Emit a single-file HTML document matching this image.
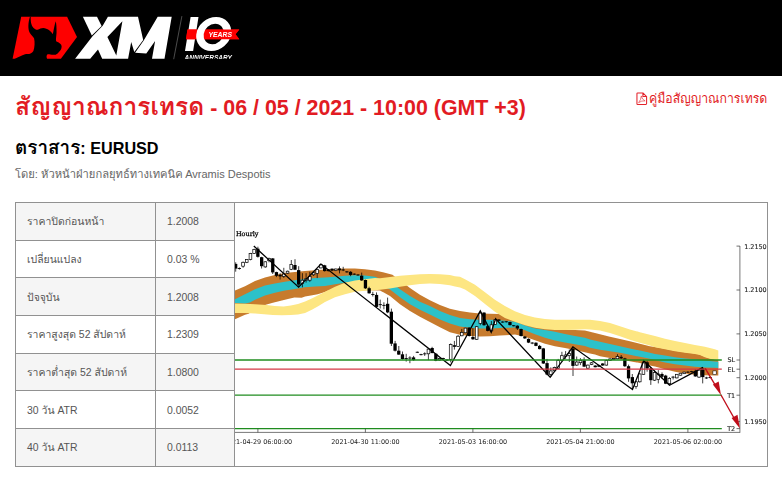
<!DOCTYPE html>
<html lang="th">
<head>
<meta charset="utf-8">
<title>XM</title>
<style>
*{box-sizing:border-box}
html,body{margin:0;padding:0;background:#fff}
body{width:782px;height:481px;overflow:hidden;position:relative;font-family:"Liberation Sans","Loma",sans-serif;color:#333}
#hdr{position:absolute;left:0;top:0;width:782px;height:76px;background:#000}
#logo{position:absolute;left:0;top:0;will-change:transform}
.th{display:inline-block;transform-origin:0 78%;white-space:nowrap}
h1{position:absolute;left:15px;top:92px;margin:0;font-size:21.4px;line-height:30px;font-weight:bold;color:#e21b23;white-space:nowrap}
h1 .th{font-size:24.6px;line-height:30px}
h2 .th{font-size:18.9px;line-height:24px}
#by .th{font-size:11.2px;line-height:16px}
#guide{position:absolute;left:649px;top:89.5px;font-size:12.3px;line-height:18px;color:#e21b23;white-space:nowrap;transform:scaleY(1.08);transform-origin:0 77%}
h2{position:absolute;left:15px;top:136px;margin:0;font-size:16.2px;line-height:24px;font-weight:bold;color:#000;white-space:nowrap}
#by{position:absolute;left:15px;top:166px;font-size:11px;line-height:16px;color:#666;white-space:nowrap}
table{position:absolute;left:15px;top:202px;border-collapse:collapse;font-size:10.45px;color:#555}
td{border:1px solid #919191;height:37.7px;padding:1px 0 0 11px;vertical-align:middle;white-space:nowrap}
tr:nth-child(odd) td{background:#f5f5f5}
td.a{width:140px}
td .t{font-size:10.45px}
td.b{width:79px}
#cell{position:absolute;left:234px;top:202px;width:534px;height:265px;border:1px solid #919191;background:#fff}
#chart{position:absolute;left:0;top:0;will-change:transform}
</style>
</head>
<body>
<div id="hdr">
<svg id="logo" width="260" height="76" viewBox="0 0 260 76">
<defs><clipPath id="lc"><rect x="0" y="0" width="260" height="58.8"/></clipPath></defs>
<polygon fill="#fe0000" points="21.2,16.7 67.1,16.7 77,36.9 60.9,58.8 12.6,58.8"/>
<g transform="translate(10,12) scale(0.1039)"><path fill="#000" d="M192,45 C175,100 170,160 190,200 C205,225 225,240 232,255 C240,290 238,340 225,375 C215,395 195,405 165,405 C140,405 110,420 45,452 L357,452 C348,430 352,415 362,407 C380,405 400,416 440,411 C455,406 465,396 470,386 C485,376 497,356 497,330 C495,312 480,298 447,285 C438,270 445,250 448,200 C449,150 446,110 440,88 C430,120 420,170 412,215 C395,185 360,158 320,155 C300,155 285,165 265,172 C235,170 210,140 202,100 C200,80 198,60 200,45 Z"/></g>
<g fill="#fff">
<polygon points="82.9,16.7 97,16.7 101.6,26 91.8,35.4"/>
<polygon points="75.1,58.8 90.2,58.8 98,49.6 102.2,58.8 116.7,58.8 116.3,55.4 107.4,37 122.4,21.2 116.3,55.4 116.7,58.8 128.1,58.8 131.2,42.1 134.3,52 143.2,40.1 138,16.7 107.9,16.7 102.7,25.7 92.5,36.2"/>
<polygon points="135.1,52.7 146.3,53.6 155.1,40.9 152,58.8 164.5,58.8 171.7,16.7 157.7,16.7 143.7,40.6"/>
</g>
<line x1="181.9" y1="16.1" x2="173.7" y2="59.2" stroke="#555" stroke-width="0.9"/>
<polygon fill="#fff" points="190.6,17 198.5,17 193.1,51.1 185,51.1"/>
<polygon fill="#fe0000" points="187.5,29.4 239.3,29.4 235.5,34.3 239.3,39.2 186,39.2"/>
<g transform="translate(213.7,34) skewX(-8)"><path fill="#fff" fill-rule="evenodd" d="M-17.4,0a17.4,17 0 1,0 34.8,0a17.4,17 0 1,0 -34.8,0ZM-10,0a10,10.3 0 1,1 20,0a10,10.3 0 1,1 -20,0Z"/></g>
<polygon fill="#fe0000" points="187.5,29.4 196.8,29.4 195.2,39.2 186,39.2"/>
<polygon fill="#fe0000" points="206.3,29.4 239.3,29.4 235.5,34.3 239.3,39.2 204.6,39.2 204.6,34.3"/>
<text x="208.6" y="37" font-family="'Liberation Sans',sans-serif" font-weight="bold" font-style="italic" font-size="7.9" fill="#fff" textLength="23.3" lengthAdjust="spacingAndGlyphs">YEARS</text>
<g clip-path="url(#lc)"><text x="184.6" y="60" font-family="'Liberation Sans',sans-serif" font-weight="bold" font-style="italic" font-size="6.3" fill="#fff" textLength="47.3" lengthAdjust="spacingAndGlyphs">ANNIVERSARY</text></g>
</svg></div>
<h1><span class="th">สัญญาณการเทรด</span> - 06 / 05 / 2021 - 10:00 (GMT +3)</h1>
<svg width="12" height="14" viewBox="0 0 12 14" style="position:absolute;left:635.6px;top:92.4px"><path d="M1.6 0.95H6.9L10.6 4.6V11.6Q10.6 12.4 9.8 12.4H1.6Q0.95 12.4 0.95 11.7V1.6Q0.95 0.95 1.6 0.95Z M6.9 1.1V4.5H10.4" fill="none" stroke="#e3232b" stroke-width="1.05" stroke-linejoin="round"/><path d="M2.6 10.7Q5.1 7.6 5.3 3.9Q5.9 7.6 9.1 8.9Q5.6 8.4 2.6 10.7Z" fill="none" stroke="#e3232b" stroke-width="0.6" stroke-linejoin="round"/></svg>
<div id="guide">คู่มือสัญญาณการเทรด</div>
<h2><span class="th">ตราสาร</span>: EURUSD</h2>
<div id="by"><span class="th">โดย: หัวหน้าฝ่ายกลยุทธ์ทางเทคนิค</span> Avramis Despotis</div>
<table>
<tr><td class="a"><span class="t">ราคาปิดก่อนหน้า</span></td><td class="b">1.2008</td></tr>
<tr><td class="a"><span class="t">เปลี่ยนแปลง</span></td><td class="b">0.03 %</td></tr>
<tr><td class="a"><span class="t">ปัจจุบัน</span></td><td class="b">1.2008</td></tr>
<tr><td class="a"><span class="t">ราคาสูงสุด</span> 52 <span class="t">สัปดาห์</span></td><td class="b">1.2309</td></tr>
<tr><td class="a"><span class="t">ราคาต่ำสุด</span> 52 <span class="t">สัปดาห์</span></td><td class="b">1.0800</td></tr>
<tr><td class="a">30 <span class="t">วัน</span> ATR</td><td class="b">0.0052</td></tr>
<tr><td class="a">40 <span class="t">วัน</span> ATR</td><td class="b">0.0113</td></tr>
</table>
<div id="cell"></div>
<svg id="chart" width="782" height="481" viewBox="0 0 782 481">
<defs><clipPath id="cc"><rect x="235" y="203" width="532" height="263"/></clipPath></defs>
<g clip-path="url(#cc)">
<polygon fill="#c77b2d" points="235.0,290.6 245.0,286.2 255.0,281.0 265.0,277.5 274.9,275.0 284.9,273.1 294.9,271.9 304.9,271.0 315.0,270.2 325.0,269.5 335.0,269.0 345.0,268.6 354.9,268.6 364.9,269.2 374.9,270.5 384.9,272.7 392.4,274.8 400.0,280.5 406.8,285.5 410.0,288.0 419.9,294.8 429.9,300.2 439.9,305.1 449.9,308.8 460.0,311.1 470.0,312.5 479.9,313.5 489.9,313.7 499.9,313.9 507.0,315.5 515.0,318.0 525.0,321.0 535.0,324.0 545.0,326.5 554.9,329.0 564.9,330.0 574.9,330.0 584.9,330.6 590.0,331.8 600.0,334.3 610.0,336.8 620.0,339.0 629.9,341.2 639.9,343.7 649.9,346.2 655.0,347.0 665.0,348.8 675.0,350.7 685.0,352.2 694.9,353.5 699.9,354.5 704.9,356.7 709.9,358.2 714.9,359.2 718.3,359.7 718.3,375.5 714.9,375.5 704.9,375.2 694.9,374.7 685.0,373.4 675.0,371.8 665.0,369.3 655.0,366.5 649.9,365.5 639.9,363.1 629.9,361.2 620.0,359.3 610.0,358.1 600.0,356.3 595.0,354.6 590.0,353.6 584.9,352.2 574.9,349.9 564.9,348.1 554.9,346.2 545.0,343.7 535.0,340.2 525.0,336.8 515.0,334.5 509.9,334.9 499.9,335.6 489.9,336.2 479.9,336.4 470.0,335.9 460.0,334.7 450.0,332.2 439.9,327.2 429.9,321.9 419.9,316.7 410.0,311.1 400.0,304.2 390.0,296.1 380.0,290.5 370.0,290.2 355.0,290.2 340.0,290.3 327.5,290.7 325.0,291.9 317.7,294.3 312.3,295.2 305.1,296.5 301.6,297.7 294.4,297.4 289.0,298.7 281.9,300.5 272.9,302.8 266.6,304.6 255.0,308.5 248.7,313.7 245.0,314.8 240.0,317.0 235.0,319.3"/>
<polygon fill="#2cc1c9" points="235.0,299.3 245.0,294.3 255.0,289.3 265.0,285.6 274.9,283.5 284.9,281.8 294.9,280.2 304.9,279.0 315.0,277.9 325.0,277.5 335.0,276.7 345.0,275.7 354.9,275.2 364.9,275.5 374.9,276.7 377.4,277.7 387.0,282.0 397.5,287.3 400.0,289.2 410.0,296.1 419.9,301.7 429.9,306.1 439.9,311.0 449.9,315.0 460.0,318.0 470.0,319.2 479.9,319.8 489.9,319.8 499.9,320.2 509.9,321.2 515.0,321.8 525.0,325.6 535.0,328.5 545.0,330.0 554.9,331.8 564.9,334.0 574.9,336.0 584.9,337.7 590.0,339.5 600.0,341.8 610.0,344.0 620.0,346.2 629.9,348.4 639.9,350.6 649.9,352.7 655.0,354.0 665.0,355.6 675.0,357.2 685.0,358.4 694.9,359.3 704.9,360.6 714.9,361.4 718.3,361.8 718.3,368.1 714.9,367.7 704.9,367.4 694.9,366.8 685.0,365.6 675.0,364.3 665.0,362.4 655.0,360.1 649.9,358.7 639.9,356.8 629.9,354.7 620.0,352.7 610.0,351.2 600.0,349.7 590.0,347.8 584.9,345.9 574.9,344.3 564.9,342.4 554.9,340.6 545.0,337.7 535.0,334.3 525.0,330.3 515.0,327.5 509.9,327.7 499.9,328.1 489.9,328.5 479.9,328.5 470.0,327.7 460.0,326.4 449.9,323.6 439.9,319.6 429.9,314.4 419.9,309.8 410.0,304.2 400.0,297.3 389.4,289.0 375.0,284.5 360.0,282.5 346.2,282.3 345.0,282.7 335.0,284.2 325.0,286.1 315.0,286.5 304.9,287.2 294.9,289.0 284.9,290.6 274.9,292.7 265.0,295.6 255.0,299.7 250.0,302.4 245.0,303.4 235.0,303.1"/>
<polygon fill="#fde682" points="235.0,303.4 245.0,303.7 255.0,304.2 266.6,304.9 274.7,305.9 283.6,306.4 290.8,305.5 298.0,304.1 305.1,301.4 312.3,298.3 317.7,295.6 325.0,291.7 335.0,286.7 345.0,282.7 354.9,280.5 364.9,279.2 374.9,278.0 380.0,278.3 390.0,277.0 400.0,275.7 410.0,274.9 419.9,274.2 429.9,274.0 439.9,274.2 449.9,274.9 455.0,276.3 460.0,276.8 465.0,279.2 475.0,284.8 485.0,292.3 494.9,299.8 504.9,306.1 514.9,311.3 525.0,315.0 535.0,317.6 545.0,319.0 554.9,319.7 564.9,319.7 574.9,319.7 584.9,319.7 590.0,319.8 600.0,321.0 610.0,323.1 620.0,326.2 629.9,329.4 639.9,332.2 649.9,334.7 655.0,336.0 665.0,338.7 675.0,341.0 685.0,343.1 694.9,345.0 704.9,346.8 714.9,349.3 718.3,350.6 718.3,360.2 714.9,359.7 709.9,358.7 704.9,357.2 699.9,355.0 694.9,354.0 685.0,352.7 675.0,351.2 665.0,349.3 655.0,347.2 649.9,345.6 639.9,342.7 629.9,339.7 620.0,336.2 610.0,333.1 600.0,330.6 590.0,329.4 584.9,329.3 574.9,329.7 564.9,330.0 554.9,330.0 545.0,329.3 535.0,327.8 525.0,325.2 514.9,321.8 504.9,317.9 494.9,311.7 485.0,303.9 475.0,296.1 465.0,289.5 460.0,287.5 455.0,286.5 449.9,285.2 439.9,284.0 429.9,283.6 419.9,284.0 410.0,285.2 400.0,286.7 390.0,288.6 380.0,289.8 374.9,290.2 364.9,290.7 354.9,291.7 345.0,294.2 335.0,297.3 325.0,302.0 317.7,306.4 312.3,309.5 305.1,312.9 298.0,314.4 290.8,315.0 281.9,315.3 272.9,314.9 264.0,314.2 255.0,313.4 245.0,313.0 235.0,313.0"/>
<line x1="235.7" y1="262.3" x2="235.7" y2="271.7" stroke="#000" stroke-width="0.75"/>
<rect x="234.0" y="263.9" width="3.3" height="4.7" fill="#000"/>
<line x1="239.4" y1="267.4" x2="239.4" y2="269.6" stroke="#000" stroke-width="0.75"/>
<rect x="237.7" y="268.1" width="3.3" height="0.9" fill="#000"/>
<line x1="243.1" y1="261.5" x2="243.1" y2="267.8" stroke="#000" stroke-width="0.75"/>
<rect x="241.7" y="262.3" width="2.7" height="3.9" fill="#fff" stroke="#000" stroke-width="0.7"/>
<line x1="246.8" y1="259.2" x2="246.8" y2="263.1" stroke="#000" stroke-width="0.75"/>
<rect x="245.4" y="259.6" width="2.7" height="2.7" fill="#fff" stroke="#000" stroke-width="0.7"/>
<line x1="250.5" y1="252.9" x2="250.5" y2="260.3" stroke="#000" stroke-width="0.75"/>
<rect x="249.1" y="253.4" width="2.7" height="6.2" fill="#fff" stroke="#000" stroke-width="0.7"/>
<line x1="254.2" y1="248.7" x2="254.2" y2="254.0" stroke="#000" stroke-width="0.75"/>
<rect x="252.8" y="249.4" width="2.7" height="4.1" fill="#fff" stroke="#000" stroke-width="0.7"/>
<line x1="257.9" y1="246.7" x2="257.9" y2="257.6" stroke="#000" stroke-width="0.75"/>
<rect x="256.2" y="248.7" width="3.3" height="8.1" fill="#000"/>
<line x1="261.6" y1="256.8" x2="261.6" y2="268.5" stroke="#000" stroke-width="0.75"/>
<rect x="260.0" y="257.2" width="3.3" height="9.0" fill="#000"/>
<line x1="265.3" y1="261.2" x2="265.3" y2="267.8" stroke="#000" stroke-width="0.75"/>
<rect x="264.0" y="261.8" width="2.7" height="5.1" fill="#fff" stroke="#000" stroke-width="0.7"/>
<line x1="269.0" y1="257.6" x2="269.0" y2="262.3" stroke="#000" stroke-width="0.75"/>
<rect x="267.7" y="258.4" width="2.7" height="2.3" fill="#fff" stroke="#000" stroke-width="0.7"/>
<line x1="272.7" y1="258.1" x2="272.7" y2="274.0" stroke="#000" stroke-width="0.75"/>
<rect x="271.1" y="258.4" width="3.3" height="14.0" fill="#000"/>
<line x1="276.4" y1="271.7" x2="276.4" y2="277.1" stroke="#000" stroke-width="0.75"/>
<rect x="274.8" y="272.1" width="3.3" height="3.7" fill="#000"/>
<line x1="280.1" y1="273.2" x2="280.1" y2="279.5" stroke="#000" stroke-width="0.75"/>
<rect x="278.5" y="274.8" width="3.3" height="1.6" fill="#000"/>
<line x1="283.8" y1="267.8" x2="283.8" y2="277.9" stroke="#000" stroke-width="0.75"/>
<rect x="282.5" y="274.0" width="2.7" height="2.3" fill="#fff" stroke="#000" stroke-width="0.7"/>
<line x1="287.6" y1="270.6" x2="287.6" y2="274.0" stroke="#000" stroke-width="0.75"/>
<rect x="286.2" y="271.2" width="2.7" height="2.0" fill="#fff" stroke="#000" stroke-width="0.7"/>
<line x1="291.3" y1="260.0" x2="291.3" y2="270.1" stroke="#000" stroke-width="0.75"/>
<rect x="289.9" y="264.6" width="2.7" height="4.7" fill="#fff" stroke="#000" stroke-width="0.7"/>
<line x1="295.0" y1="259.2" x2="295.0" y2="270.1" stroke="#000" stroke-width="0.75"/>
<rect x="293.3" y="265.0" width="3.3" height="4.7" fill="#000"/>
<line x1="298.7" y1="266.2" x2="298.7" y2="287.3" stroke="#000" stroke-width="0.75"/>
<rect x="297.0" y="270.1" width="3.3" height="14.5" fill="#000"/>
<line x1="302.4" y1="273.2" x2="302.4" y2="287.3" stroke="#000" stroke-width="0.75"/>
<rect x="301.0" y="280.2" width="2.7" height="3.4" fill="#fff" stroke="#000" stroke-width="0.7"/>
<line x1="306.1" y1="273.2" x2="306.1" y2="282.6" stroke="#000" stroke-width="0.75"/>
<rect x="304.7" y="278.7" width="2.7" height="1.9" fill="#fff" stroke="#000" stroke-width="0.7"/>
<line x1="309.8" y1="271.7" x2="309.8" y2="281.8" stroke="#000" stroke-width="0.75"/>
<rect x="308.4" y="276.3" width="2.7" height="3.9" fill="#fff" stroke="#000" stroke-width="0.7"/>
<line x1="313.5" y1="271.7" x2="313.5" y2="275.9" stroke="#000" stroke-width="0.75"/>
<rect x="312.2" y="272.8" width="2.7" height="2.0" fill="#fff" stroke="#000" stroke-width="0.7"/>
<line x1="317.2" y1="268.7" x2="317.2" y2="278.1" stroke="#000" stroke-width="0.75"/>
<rect x="315.9" y="269.5" width="2.7" height="3.9" fill="#fff" stroke="#000" stroke-width="0.7"/>
<line x1="320.9" y1="263.7" x2="320.9" y2="268.4" stroke="#000" stroke-width="0.75"/>
<rect x="319.6" y="264.8" width="2.7" height="3.1" fill="#fff" stroke="#000" stroke-width="0.7"/>
<line x1="324.6" y1="264.8" x2="324.6" y2="271.5" stroke="#000" stroke-width="0.75"/>
<rect x="323.0" y="265.3" width="3.3" height="5.8" fill="#000"/>
<line x1="328.3" y1="269.0" x2="328.3" y2="271.5" stroke="#000" stroke-width="0.75"/>
<rect x="326.7" y="269.5" width="3.3" height="1.6" fill="#000"/>
<line x1="332.0" y1="268.4" x2="332.0" y2="271.1" stroke="#000" stroke-width="0.75"/>
<rect x="330.4" y="268.7" width="3.3" height="1.9" fill="#000"/>
<line x1="335.7" y1="268.7" x2="335.7" y2="271.1" stroke="#000" stroke-width="0.75"/>
<rect x="334.4" y="269.0" width="2.7" height="1.6" fill="#fff" stroke="#000" stroke-width="0.7"/>
<line x1="339.5" y1="266.4" x2="339.5" y2="273.4" stroke="#000" stroke-width="0.75"/>
<rect x="337.8" y="268.4" width="3.3" height="1.9" fill="#000"/>
<line x1="343.2" y1="266.8" x2="343.2" y2="271.1" stroke="#000" stroke-width="0.75"/>
<rect x="341.5" y="269.5" width="3.3" height="0.9" fill="#000"/>
<line x1="346.9" y1="271.1" x2="346.9" y2="272.8" stroke="#000" stroke-width="0.75"/>
<rect x="345.2" y="271.4" width="3.3" height="0.9" fill="#000"/>
<line x1="350.6" y1="271.1" x2="350.6" y2="276.2" stroke="#000" stroke-width="0.75"/>
<rect x="348.9" y="271.8" width="3.3" height="3.1" fill="#000"/>
<line x1="354.3" y1="273.4" x2="354.3" y2="275.0" stroke="#000" stroke-width="0.75"/>
<rect x="352.6" y="273.7" width="3.3" height="0.9" fill="#000"/>
<line x1="358.0" y1="274.2" x2="358.0" y2="275.9" stroke="#000" stroke-width="0.75"/>
<rect x="356.3" y="274.5" width="3.3" height="0.9" fill="#000"/>
<line x1="361.7" y1="272.6" x2="361.7" y2="280.9" stroke="#000" stroke-width="0.75"/>
<rect x="360.0" y="275.7" width="3.3" height="4.7" fill="#000"/>
<line x1="365.4" y1="279.6" x2="365.4" y2="289.0" stroke="#000" stroke-width="0.75"/>
<rect x="363.8" y="280.0" width="3.3" height="8.3" fill="#000"/>
<line x1="369.1" y1="286.7" x2="369.1" y2="293.7" stroke="#000" stroke-width="0.75"/>
<rect x="367.5" y="288.2" width="3.3" height="5.1" fill="#000"/>
<line x1="372.8" y1="291.8" x2="372.8" y2="296.5" stroke="#000" stroke-width="0.75"/>
<rect x="371.2" y="294.0" width="3.3" height="0.9" fill="#000"/>
<line x1="376.5" y1="292.4" x2="376.5" y2="308.0" stroke="#000" stroke-width="0.75"/>
<rect x="374.9" y="294.9" width="3.3" height="12.0" fill="#000"/>
<line x1="380.2" y1="299.6" x2="380.2" y2="308.5" stroke="#000" stroke-width="0.75"/>
<rect x="378.6" y="304.2" width="3.3" height="0.9" fill="#000"/>
<line x1="383.9" y1="302.3" x2="383.9" y2="309.3" stroke="#000" stroke-width="0.75"/>
<rect x="382.3" y="304.9" width="3.3" height="0.9" fill="#000"/>
<line x1="387.6" y1="297.6" x2="387.6" y2="313.2" stroke="#000" stroke-width="0.75"/>
<rect x="386.0" y="303.8" width="3.3" height="8.6" fill="#000"/>
<line x1="391.4" y1="308.6" x2="391.4" y2="346.0" stroke="#000" stroke-width="0.75"/>
<rect x="389.7" y="311.7" width="3.3" height="32.0" fill="#000"/>
<line x1="395.1" y1="340.9" x2="395.1" y2="351.5" stroke="#000" stroke-width="0.75"/>
<rect x="393.4" y="343.4" width="3.3" height="7.3" fill="#000"/>
<line x1="398.8" y1="346.0" x2="398.8" y2="354.9" stroke="#000" stroke-width="0.75"/>
<rect x="397.1" y="350.7" width="3.3" height="3.9" fill="#000"/>
<line x1="402.5" y1="351.5" x2="402.5" y2="359.6" stroke="#000" stroke-width="0.75"/>
<rect x="400.8" y="354.3" width="3.3" height="4.7" fill="#000"/>
<line x1="406.2" y1="353.8" x2="406.2" y2="361.6" stroke="#000" stroke-width="0.75"/>
<rect x="404.5" y="358.1" width="3.3" height="0.9" fill="#000"/>
<line x1="409.9" y1="356.2" x2="409.9" y2="363.2" stroke="#000" stroke-width="0.75"/>
<rect x="408.2" y="357.6" width="3.3" height="0.9" fill="#000"/>
<line x1="413.6" y1="355.9" x2="413.6" y2="360.8" stroke="#000" stroke-width="0.75"/>
<rect x="411.9" y="357.4" width="3.3" height="2.7" fill="#000"/>
<line x1="417.3" y1="351.5" x2="417.3" y2="353.0" stroke="#000" stroke-width="0.75"/>
<rect x="415.7" y="351.8" width="3.3" height="0.9" fill="#000"/>
<line x1="421.0" y1="353.8" x2="421.0" y2="355.4" stroke="#000" stroke-width="0.75"/>
<rect x="419.4" y="354.2" width="3.3" height="0.9" fill="#000"/>
<line x1="424.7" y1="352.3" x2="424.7" y2="355.9" stroke="#000" stroke-width="0.75"/>
<rect x="423.1" y="353.4" width="3.3" height="0.9" fill="#000"/>
<line x1="428.4" y1="348.7" x2="428.4" y2="360.1" stroke="#000" stroke-width="0.75"/>
<rect x="427.1" y="349.1" width="2.7" height="4.7" fill="#fff" stroke="#000" stroke-width="0.7"/>
<line x1="432.1" y1="346.8" x2="432.1" y2="353.4" stroke="#000" stroke-width="0.75"/>
<rect x="430.5" y="348.0" width="3.3" height="5.0" fill="#000"/>
<line x1="435.8" y1="353.0" x2="435.8" y2="361.2" stroke="#000" stroke-width="0.75"/>
<rect x="434.2" y="353.8" width="3.3" height="7.0" fill="#000"/>
<line x1="439.5" y1="358.0" x2="439.5" y2="360.5" stroke="#000" stroke-width="0.75"/>
<rect x="438.2" y="358.5" width="2.7" height="1.6" fill="#fff" stroke="#000" stroke-width="0.7"/>
<line x1="443.2" y1="357.7" x2="443.2" y2="359.3" stroke="#000" stroke-width="0.75"/>
<rect x="441.6" y="358.1" width="3.3" height="0.9" fill="#000"/>
<line x1="447.0" y1="359.3" x2="447.0" y2="360.8" stroke="#000" stroke-width="0.75"/>
<rect x="445.3" y="359.6" width="3.3" height="0.9" fill="#000"/>
<line x1="450.7" y1="343.4" x2="450.7" y2="362.4" stroke="#000" stroke-width="0.75"/>
<rect x="449.3" y="344.5" width="2.7" height="14.8" fill="#fff" stroke="#000" stroke-width="0.7"/>
<line x1="454.4" y1="340.9" x2="454.4" y2="349.6" stroke="#000" stroke-width="0.75"/>
<rect x="452.7" y="345.2" width="3.3" height="1.6" fill="#000"/>
<line x1="458.1" y1="335.1" x2="458.1" y2="346.8" stroke="#000" stroke-width="0.75"/>
<rect x="456.7" y="336.2" width="2.7" height="10.3" fill="#fff" stroke="#000" stroke-width="0.7"/>
<line x1="461.8" y1="328.9" x2="461.8" y2="336.2" stroke="#000" stroke-width="0.75"/>
<rect x="460.4" y="332.4" width="2.7" height="3.4" fill="#fff" stroke="#000" stroke-width="0.7"/>
<line x1="465.5" y1="327.8" x2="465.5" y2="333.1" stroke="#000" stroke-width="0.75"/>
<rect x="464.1" y="328.1" width="2.7" height="4.7" fill="#fff" stroke="#000" stroke-width="0.7"/>
<line x1="469.2" y1="327.2" x2="469.2" y2="336.5" stroke="#000" stroke-width="0.75"/>
<rect x="467.5" y="327.6" width="3.3" height="8.4" fill="#000"/>
<line x1="472.9" y1="328.1" x2="472.9" y2="339.8" stroke="#000" stroke-width="0.75"/>
<rect x="471.3" y="337.0" width="3.3" height="2.3" fill="#000"/>
<line x1="476.6" y1="326.2" x2="476.6" y2="339.8" stroke="#000" stroke-width="0.75"/>
<rect x="475.3" y="326.7" width="2.7" height="12.6" fill="#fff" stroke="#000" stroke-width="0.7"/>
<line x1="480.3" y1="311.2" x2="480.3" y2="325.3" stroke="#000" stroke-width="0.75"/>
<rect x="479.0" y="313.1" width="2.7" height="10.3" fill="#fff" stroke="#000" stroke-width="0.7"/>
<line x1="484.0" y1="312.2" x2="484.0" y2="325.7" stroke="#000" stroke-width="0.75"/>
<rect x="482.4" y="312.6" width="3.3" height="12.6" fill="#000"/>
<line x1="487.7" y1="325.7" x2="487.7" y2="331.4" stroke="#000" stroke-width="0.75"/>
<rect x="486.1" y="326.2" width="3.3" height="4.7" fill="#000"/>
<line x1="491.4" y1="321.1" x2="491.4" y2="332.3" stroke="#000" stroke-width="0.75"/>
<rect x="490.1" y="324.8" width="2.7" height="6.1" fill="#fff" stroke="#000" stroke-width="0.7"/>
<line x1="495.1" y1="319.2" x2="495.1" y2="324.8" stroke="#000" stroke-width="0.75"/>
<rect x="493.8" y="319.7" width="2.7" height="4.7" fill="#fff" stroke="#000" stroke-width="0.7"/>
<line x1="498.9" y1="319.2" x2="498.9" y2="321.1" stroke="#000" stroke-width="0.75"/>
<rect x="497.2" y="319.5" width="3.3" height="1.3" fill="#000"/>
<line x1="502.6" y1="321.3" x2="502.6" y2="322.7" stroke="#000" stroke-width="0.75"/>
<rect x="500.9" y="321.6" width="3.3" height="0.9" fill="#000"/>
<line x1="506.3" y1="321.1" x2="506.3" y2="322.5" stroke="#000" stroke-width="0.75"/>
<rect x="504.6" y="321.3" width="3.3" height="0.9" fill="#000"/>
<line x1="510.0" y1="321.7" x2="510.0" y2="325.5" stroke="#000" stroke-width="0.75"/>
<rect x="508.3" y="322.0" width="3.3" height="3.1" fill="#000"/>
<line x1="513.7" y1="325.1" x2="513.7" y2="326.4" stroke="#000" stroke-width="0.75"/>
<rect x="512.0" y="325.3" width="3.3" height="0.9" fill="#000"/>
<line x1="517.4" y1="325.3" x2="517.4" y2="330.0" stroke="#000" stroke-width="0.75"/>
<rect x="515.7" y="325.7" width="3.3" height="2.8" fill="#000"/>
<line x1="521.1" y1="328.6" x2="521.1" y2="336.5" stroke="#000" stroke-width="0.75"/>
<rect x="519.4" y="329.0" width="3.3" height="7.0" fill="#000"/>
<line x1="524.8" y1="335.9" x2="524.8" y2="338.9" stroke="#000" stroke-width="0.75"/>
<rect x="523.2" y="336.5" width="3.3" height="1.9" fill="#000"/>
<line x1="528.5" y1="338.4" x2="528.5" y2="343.1" stroke="#000" stroke-width="0.75"/>
<rect x="526.9" y="338.9" width="3.3" height="3.7" fill="#000"/>
<line x1="532.2" y1="342.1" x2="532.2" y2="344.2" stroke="#000" stroke-width="0.75"/>
<rect x="530.6" y="342.6" width="3.3" height="0.9" fill="#000"/>
<line x1="535.9" y1="342.3" x2="535.9" y2="346.2" stroke="#000" stroke-width="0.75"/>
<rect x="534.3" y="342.7" width="3.3" height="3.2" fill="#000"/>
<line x1="539.6" y1="344.9" x2="539.6" y2="349.4" stroke="#000" stroke-width="0.75"/>
<rect x="538.0" y="345.9" width="3.3" height="3.2" fill="#000"/>
<line x1="543.3" y1="347.9" x2="543.3" y2="364.0" stroke="#000" stroke-width="0.75"/>
<rect x="541.7" y="348.4" width="3.3" height="15.1" fill="#000"/>
<line x1="547.0" y1="358.9" x2="547.0" y2="375.2" stroke="#000" stroke-width="0.75"/>
<rect x="545.4" y="363.1" width="3.3" height="11.4" fill="#000"/>
<line x1="550.8" y1="367.4" x2="550.8" y2="376.8" stroke="#000" stroke-width="0.75"/>
<rect x="549.4" y="370.9" width="2.7" height="3.6" fill="#fff" stroke="#000" stroke-width="0.7"/>
<line x1="554.5" y1="366.7" x2="554.5" y2="371.3" stroke="#000" stroke-width="0.75"/>
<rect x="553.1" y="367.4" width="2.7" height="3.4" fill="#fff" stroke="#000" stroke-width="0.7"/>
<line x1="558.2" y1="358.9" x2="558.2" y2="369.0" stroke="#000" stroke-width="0.75"/>
<rect x="556.8" y="360.4" width="2.7" height="7.8" fill="#fff" stroke="#000" stroke-width="0.7"/>
<line x1="561.9" y1="351.8" x2="561.9" y2="361.2" stroke="#000" stroke-width="0.75"/>
<rect x="560.5" y="355.7" width="2.7" height="4.7" fill="#fff" stroke="#000" stroke-width="0.7"/>
<line x1="565.6" y1="351.1" x2="565.6" y2="358.9" stroke="#000" stroke-width="0.75"/>
<rect x="564.2" y="355.0" width="2.7" height="1.6" fill="#fff" stroke="#000" stroke-width="0.7"/>
<line x1="569.3" y1="349.5" x2="569.3" y2="362.0" stroke="#000" stroke-width="0.75"/>
<rect x="567.9" y="353.4" width="2.7" height="2.3" fill="#fff" stroke="#000" stroke-width="0.7"/>
<line x1="573.0" y1="346.8" x2="573.0" y2="376.0" stroke="#000" stroke-width="0.75"/>
<rect x="571.3" y="348.7" width="3.3" height="17.2" fill="#000"/>
<line x1="576.7" y1="356.5" x2="576.7" y2="365.9" stroke="#000" stroke-width="0.75"/>
<rect x="575.4" y="362.0" width="2.7" height="3.1" fill="#fff" stroke="#000" stroke-width="0.7"/>
<line x1="580.4" y1="358.1" x2="580.4" y2="365.1" stroke="#000" stroke-width="0.75"/>
<rect x="579.1" y="360.4" width="2.7" height="2.3" fill="#fff" stroke="#000" stroke-width="0.7"/>
<line x1="584.1" y1="357.3" x2="584.1" y2="367.1" stroke="#000" stroke-width="0.75"/>
<rect x="582.5" y="360.4" width="3.3" height="6.2" fill="#000"/>
<line x1="587.8" y1="364.6" x2="587.8" y2="368.7" stroke="#000" stroke-width="0.75"/>
<rect x="586.5" y="365.1" width="2.7" height="3.1" fill="#fff" stroke="#000" stroke-width="0.7"/>
<line x1="591.5" y1="362.0" x2="591.5" y2="365.1" stroke="#000" stroke-width="0.75"/>
<rect x="590.2" y="362.8" width="2.7" height="1.6" fill="#fff" stroke="#000" stroke-width="0.7"/>
<line x1="595.2" y1="365.1" x2="595.2" y2="367.4" stroke="#000" stroke-width="0.75"/>
<rect x="593.6" y="365.6" width="3.3" height="1.6" fill="#000"/>
<line x1="598.9" y1="364.6" x2="598.9" y2="367.1" stroke="#000" stroke-width="0.75"/>
<rect x="597.3" y="365.1" width="3.3" height="1.6" fill="#000"/>
<line x1="602.7" y1="363.1" x2="602.7" y2="365.9" stroke="#000" stroke-width="0.75"/>
<rect x="601.0" y="363.5" width="3.3" height="2.0" fill="#000"/>
<line x1="606.4" y1="359.6" x2="606.4" y2="365.6" stroke="#000" stroke-width="0.75"/>
<rect x="605.0" y="360.4" width="2.7" height="4.7" fill="#fff" stroke="#000" stroke-width="0.7"/>
<line x1="610.1" y1="358.4" x2="610.1" y2="360.9" stroke="#000" stroke-width="0.75"/>
<rect x="608.7" y="358.9" width="2.7" height="1.6" fill="#fff" stroke="#000" stroke-width="0.7"/>
<line x1="613.8" y1="358.1" x2="613.8" y2="359.6" stroke="#000" stroke-width="0.75"/>
<rect x="612.4" y="358.4" width="2.7" height="0.9" fill="#fff" stroke="#000" stroke-width="0.7"/>
<line x1="617.5" y1="354.2" x2="617.5" y2="359.3" stroke="#000" stroke-width="0.75"/>
<rect x="616.1" y="356.5" width="2.7" height="2.3" fill="#fff" stroke="#000" stroke-width="0.7"/>
<line x1="621.2" y1="355.0" x2="621.2" y2="358.9" stroke="#000" stroke-width="0.75"/>
<rect x="619.5" y="356.8" width="3.3" height="1.6" fill="#000"/>
<line x1="624.9" y1="357.8" x2="624.9" y2="367.0" stroke="#000" stroke-width="0.75"/>
<rect x="623.2" y="358.4" width="3.3" height="7.8" fill="#000"/>
<line x1="628.6" y1="364.6" x2="628.6" y2="381.8" stroke="#000" stroke-width="0.75"/>
<rect x="626.9" y="366.2" width="3.3" height="12.2" fill="#000"/>
<line x1="632.3" y1="374.0" x2="632.3" y2="388.8" stroke="#000" stroke-width="0.75"/>
<rect x="630.7" y="377.1" width="3.3" height="6.2" fill="#000"/>
<line x1="636.0" y1="381.0" x2="636.0" y2="388.8" stroke="#000" stroke-width="0.75"/>
<rect x="634.7" y="381.8" width="2.7" height="4.7" fill="#fff" stroke="#000" stroke-width="0.7"/>
<line x1="639.7" y1="373.2" x2="639.7" y2="382.6" stroke="#000" stroke-width="0.75"/>
<rect x="638.4" y="374.0" width="2.7" height="7.8" fill="#fff" stroke="#000" stroke-width="0.7"/>
<line x1="643.4" y1="360.7" x2="643.4" y2="374.8" stroke="#000" stroke-width="0.75"/>
<rect x="642.1" y="362.8" width="2.7" height="11.5" fill="#fff" stroke="#000" stroke-width="0.7"/>
<line x1="647.1" y1="360.7" x2="647.1" y2="371.7" stroke="#000" stroke-width="0.75"/>
<rect x="645.5" y="362.3" width="3.3" height="6.2" fill="#000"/>
<line x1="650.8" y1="367.0" x2="650.8" y2="384.9" stroke="#000" stroke-width="0.75"/>
<rect x="649.2" y="368.5" width="3.3" height="11.7" fill="#000"/>
<line x1="654.5" y1="370.1" x2="654.5" y2="381.0" stroke="#000" stroke-width="0.75"/>
<rect x="653.2" y="372.4" width="2.7" height="7.8" fill="#fff" stroke="#000" stroke-width="0.7"/>
<line x1="658.3" y1="370.1" x2="658.3" y2="383.4" stroke="#000" stroke-width="0.75"/>
<rect x="656.9" y="374.0" width="2.7" height="5.5" fill="#fff" stroke="#000" stroke-width="0.7"/>
<line x1="662.0" y1="372.4" x2="662.0" y2="378.7" stroke="#000" stroke-width="0.75"/>
<rect x="660.3" y="374.0" width="3.3" height="2.8" fill="#000"/>
<line x1="665.7" y1="374.8" x2="665.7" y2="384.1" stroke="#000" stroke-width="0.75"/>
<rect x="664.0" y="375.6" width="3.3" height="8.1" fill="#000"/>
<line x1="669.4" y1="377.1" x2="669.4" y2="384.9" stroke="#000" stroke-width="0.75"/>
<rect x="668.0" y="378.4" width="2.7" height="5.3" fill="#fff" stroke="#000" stroke-width="0.7"/>
<line x1="673.1" y1="375.9" x2="673.1" y2="379.5" stroke="#000" stroke-width="0.75"/>
<rect x="671.4" y="376.7" width="3.3" height="0.9" fill="#000"/>
<line x1="676.8" y1="374.0" x2="676.8" y2="378.4" stroke="#000" stroke-width="0.75"/>
<rect x="675.4" y="374.3" width="2.7" height="3.6" fill="#fff" stroke="#000" stroke-width="0.7"/>
<line x1="680.5" y1="372.9" x2="680.5" y2="375.6" stroke="#000" stroke-width="0.75"/>
<rect x="679.1" y="373.2" width="2.7" height="2.0" fill="#fff" stroke="#000" stroke-width="0.7"/>
<line x1="684.2" y1="371.8" x2="684.2" y2="374.0" stroke="#000" stroke-width="0.75"/>
<rect x="682.9" y="372.1" width="2.7" height="1.6" fill="#fff" stroke="#000" stroke-width="0.7"/>
<line x1="687.9" y1="371.3" x2="687.9" y2="372.9" stroke="#000" stroke-width="0.75"/>
<rect x="686.3" y="371.7" width="3.3" height="0.9" fill="#000"/>
<line x1="691.6" y1="370.9" x2="691.6" y2="372.4" stroke="#000" stroke-width="0.75"/>
<rect x="690.0" y="371.2" width="3.3" height="0.9" fill="#000"/>
<line x1="695.3" y1="369.3" x2="695.3" y2="376.8" stroke="#000" stroke-width="0.75"/>
<rect x="693.7" y="370.9" width="3.3" height="5.5" fill="#000"/>
<line x1="699.0" y1="369.6" x2="699.0" y2="377.9" stroke="#000" stroke-width="0.75"/>
<rect x="697.7" y="370.1" width="2.7" height="7.0" fill="#fff" stroke="#000" stroke-width="0.7"/>
<line x1="702.7" y1="367.4" x2="702.7" y2="383.4" stroke="#000" stroke-width="0.75"/>
<rect x="701.1" y="368.5" width="3.3" height="8.6" fill="#000"/>
<line x1="706.4" y1="376.8" x2="706.4" y2="379.0" stroke="#000" stroke-width="0.75"/>
<rect x="704.8" y="377.5" width="3.3" height="0.9" fill="#000"/>
<line x1="710.2" y1="376.5" x2="710.2" y2="378.4" stroke="#000" stroke-width="0.75"/>
<rect x="708.5" y="377.0" width="3.3" height="0.9" fill="#000"/>
<rect x="712.9" y="370.9" width="3.3" height="3.8" fill="#fff" stroke="#000" stroke-width="0.55"/>
<polyline fill="none" stroke="#000" stroke-width="1.25" stroke-linejoin="miter" points="253.8,246.0 298.6,287.2 320.9,264.0 450.4,365.5 480.3,310.9 491.2,332.3 495.6,318.7 550.2,377.3 572.9,346.8 632.5,389.4 643.7,360.7 669.5,385.2 703.0,367.4"/>
<line x1="235" y1="360.0" x2="721.8" y2="360.0" stroke="#1f8c1f" stroke-width="1.3"/>
<line x1="235" y1="369.2" x2="721.8" y2="369.2" stroke="#d43644" stroke-width="1.3"/>
<line x1="235" y1="395.2" x2="721.8" y2="395.2" stroke="#1f8c1f" stroke-width="1.3"/>
<line x1="235" y1="428.6" x2="721.8" y2="428.6" stroke="#1f8c1f" stroke-width="1.3"/>
<path d="M235 432.4H739.9M739.9 246V432.8" stroke="#555" stroke-width="0.8" fill="none"/>
<path d="M257.9 432.4v-3.6M365.4 432.4v-3.6M472.9 432.4v-3.6M580.4 432.4v-3.6M687.9 432.4v-3.6M739.9 246.1h-3.4M739.9 290.0h-3.4M739.9 333.9h-3.4M739.9 377.7h-3.4M739.9 421.6h-3.4M739.9 360.0h-3.4M739.9 369.2h-3.4M739.9 395.2h-3.4M739.9 428.6h-3.4" stroke="#333" stroke-width="0.7" fill="none"/>
<g font-family="'DejaVu Sans',sans-serif" font-size="6.45" fill="#1a1a1a">
<text x="257.9" y="443.7" text-anchor="middle">2021-04-29 06:00:00</text>
<text x="365.4" y="443.7" text-anchor="middle">2021-04-30 11:00:00</text>
<text x="472.9" y="443.7" text-anchor="middle">2021-05-03 16:00:00</text>
<text x="580.4" y="443.7" text-anchor="middle">2021-05-04 21:00:00</text>
<text x="687.9" y="443.7" text-anchor="middle">2021-05-06 02:00:00</text>
<text x="744.2" y="248.5" stroke="#1a1a1a" stroke-width="0.1">1.2150</text>
<text x="744.2" y="292.4" stroke="#1a1a1a" stroke-width="0.1">1.2100</text>
<text x="744.2" y="336.3" stroke="#1a1a1a" stroke-width="0.1">1.2050</text>
<text x="744.2" y="380.1" stroke="#1a1a1a" stroke-width="0.1">1.2000</text>
<text x="744.2" y="424.0" stroke="#1a1a1a" stroke-width="0.1">1.1950</text>
<text x="735.2" y="362.4" text-anchor="end" stroke="#1a1a1a" stroke-width="0.1">SL</text>
<text x="735.2" y="371.6" text-anchor="end" stroke="#1a1a1a" stroke-width="0.1">EL</text>
<text x="735.2" y="397.6" text-anchor="end" stroke="#1a1a1a" stroke-width="0.1">T1</text>
<text x="735.2" y="431.0" text-anchor="end" stroke="#1a1a1a" stroke-width="0.1">T2</text>
</g>
<text x="235.9" y="236.4" font-family="'DejaVu Serif','Liberation Serif',serif" font-size="6.5" fill="#000" stroke="#000" stroke-width="0.28">Hourly</text>
<g stroke="#c00d1a" fill="#c00d1a"><line x1="705.2" y1="368.4" x2="717" y2="388" stroke-width="1.35"/><line x1="721" y1="395" x2="736" y2="421.5" stroke-width="1.35"/>
<polygon stroke="none" points="721,395.3 712.9,384.6 718.7,381.6"/><polygon stroke="none" points="739.9,428.6 731.6,417.9 737.5,414.8"/></g>
</g>
</svg>
</body>
</html>
